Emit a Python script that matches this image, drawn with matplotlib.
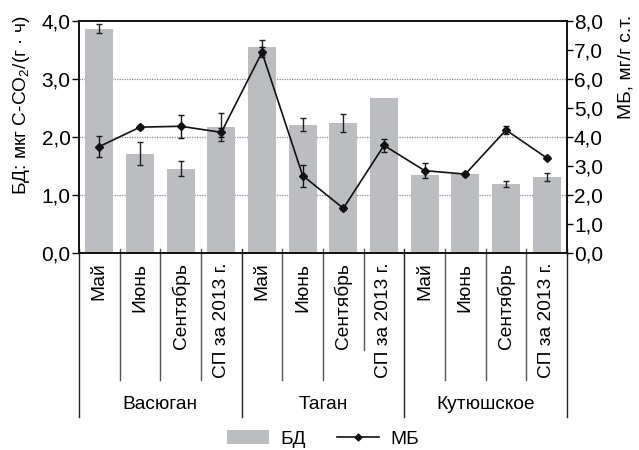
import matplotlib
matplotlib.use("Agg")
import matplotlib.pyplot as plt
from matplotlib.patches import Patch
from matplotlib.lines import Line2D
from matplotlib import font_manager
import numpy as np

# ---- data ----
months = ["Май", "Июнь", "Сентябрь", "СП за 2013 г."]
sites = ["Васюган", "Таган", "Кутюшское"]
categories = months * 3

bd_values = [3.87, 1.71, 1.45, 2.17, 3.55, 2.21, 2.24, 2.67, 1.34, 1.36, 1.19, 1.31]
bd_errors = [0.07, 0.20, 0.13, 0.24, 0.13, 0.11, 0.16, 0.00, 0.00, 0.00, 0.05, 0.07]

mb_values = [3.67, 4.34, 4.37, 4.16, 6.92, 2.67, 1.54, 3.71, 2.84, 2.72, 4.24, 3.28]
mb_errors = [0.35, 0.08, 0.40, 0.15, 0.17, 0.38, 0.07, 0.23, 0.25, 0.08, 0.13, 0.05]

left_ticks = [0, 1, 2, 3, 4]
right_ticks = [0, 1, 2, 3, 4, 5, 6, 7, 8]

# ---- font ----
names = {f.name for f in font_manager.fontManager.ttflist}
narrow = "Liberation Sans Narrow" in names
family = "Liberation Sans Narrow" if narrow else "Liberation Sans"
fsize = 16.5 if narrow else 13.8
tsize = 17 if narrow else 15
plt.rcParams["font.family"] = [family, "DejaVu Sans"]
plt.rcParams["mathtext.fontset"] = "custom"
plt.rcParams["mathtext.rm"] = family
plt.rcParams["mathtext.it"] = family
plt.rcParams["font.size"] = fsize

W, H = 639, 450
fig = plt.figure(figsize=(W / 100, H / 100), dpi=100)
x0, x1, ytop, ybot = 79, 567, 21, 253
ax = fig.add_axes([x0 / W, 1 - ybot / H, (x1 - x0) / W, (ybot - ytop) / H])

x = np.arange(len(categories))
bar_color = "#bcbdc1"

# dotted grid
for g in [1, 2, 3]:
    ax.axhline(g, color="#8a8a8a", lw=0.9, ls=(0, (1, 1)), zorder=0)

ax.bar(x, bd_values, width=0.69, color=bar_color, zorder=2)
bd_v = np.array(bd_values)
bd_e = np.array(bd_errors)
has_err = bd_e > 0
ax.errorbar(x[has_err], bd_v[has_err], yerr=bd_e[has_err], fmt="none",
            ecolor="#222222", elinewidth=1.0, capsize=2.5, capthick=1.0, zorder=3)

ax.set_xlim(-0.5, len(x) - 0.5)
ax.set_ylim(0, 4)
ax.set_yticks(left_ticks)
ax.set_yticklabels([f"{v:.1f}".replace(".", ",") for v in left_ticks])
ax.tick_params(axis="y", direction="out", length=5, width=1.0, pad=1,
               labelsize=tsize)
ax.set_xticks(x)
ax.set_xticklabels(categories, rotation=90, va="top", ha="center",
                   fontsize=fsize)
ax.tick_params(axis="x", length=0, pad=7)
for s in ax.spines.values():
    s.set_linewidth(1.2)
    s.set_color("#111111")

# right axis: МБ
ax2 = ax.twinx()
ax2.set_ylim(0, 8)
ax2.set_yticks(right_ticks)
ax2.set_yticklabels([f"{v:.1f}".replace(".", ",") for v in right_ticks])
ax2.tick_params(axis="y", direction="out", length=4, width=1.0, pad=1,
                labelsize=tsize)
for s in ax2.spines.values():
    s.set_linewidth(1.2)
    s.set_color("#111111")
ax2.errorbar(x, mb_values, yerr=mb_errors, fmt="none", ecolor="#111111",
             elinewidth=1.0, capsize=2.5, capthick=1.0, zorder=3)
ax2.plot(x, mb_values, color="#111111", lw=1.2, marker="D", ms=4.5,
         mfc="#111111", mec="#111111", zorder=4)

# category separators below the axis
trans = ax.get_xaxis_transform()
px = 1.0 / (ybot - ytop)
for i in range(len(x) + 1):
    xb = i - 0.5
    if i % 4 == 0:
        yend, col = -(417 - ybot) * px, "#222222"
    elif i == 7:
        yend, col = -(350 - ybot) * px, "#555555"
    else:
        yend, col = -(380 - ybot) * px, "#555555"
    ax.plot([xb, xb], [4 * px, yend], transform=trans, color=col, lw=1.0,
            clip_on=False, zorder=1)

for k, site in enumerate(sites):
    ax.text(4 * k + 1.5, -(405 - ybot) * px, site, transform=trans,
            ha="center", va="center", fontsize=fsize)

# axis titles
fig.text(22 / W, 1 - 105 / H, "БД: мкг С-CO$_\\mathregular{2}$/(г · ч)",
         rotation=90, ha="center", va="center", fontsize=fsize)
fig.text(626 / W, 1 - 67 / H, "МБ, мг/г с.т.", rotation=90,
         ha="center", va="center", fontsize=fsize)

handles = [Patch(facecolor=bar_color, edgecolor="none"),
           Line2D([], [], color="#111111", lw=1.2, marker="D", ms=3.5)]
fig.legend(handles, ["БД", "МБ"], loc="center", bbox_to_anchor=(323 / W, 1 - 439 / H),
           ncol=2, frameon=False, fontsize=fsize, handlelength=2.2,
           handleheight=0.7, columnspacing=1.6, handletextpad=0.6)

fig.savefig("out.png", dpi=100)
